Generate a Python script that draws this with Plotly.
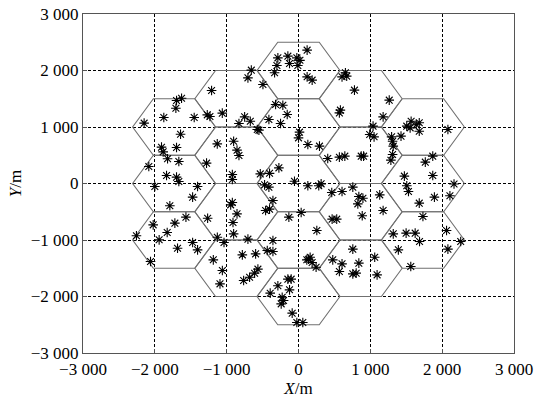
import numpy as np
import plotly.graph_objects as go

# Hexagonal cell centres (m)
hex_cx = [0, 0, 0, 0, 0, -866, -866, -866, -866, 866, 866, 866, 866, -1732, -1732, -1732, 1732, 1732, 1732]
hex_cy = [0, 1000, -1000, 2000, -2000, 500, -500, 1500, -1500, 500, -500, 1500, -1500, 0, 1000, -1000, 0, 1000, -1000]
hex_radius = 577.35

# User positions (m)
user_x = [120, -287, -148, -23, 20, -125, -9, -301, -333, 120, 190, -657, -704, -495, -1210,
          653, 606, 671, 779, 1263, -1698, -1628, -1707,
          -1875, -1452, -1233, -1061, -2149, -1642, -1131, -1907, -1698, -1884, -1823, -1666, -2084,
          -1280, -1837, -1698, -1666, -319, -218, -157, -412, -250, -750, -671, -829, -574, -551,
          14, 0, 130, 292, -903, -856, -829, 407, 569, -273, -403, -532, -921, -921, -56,
          583, 569, 1178, 1038, 1568, 1681, 1507, 1554, 1681, 1640, 2080, 991, 1052, 1296, 1427,
          1310, 1319, 1310, 1286, 1869, 1765, 1474, 1869, 645, 873, 906, 2165, -1270,
          -2000, -1405, -1474, -1791, -1567, -1265, -1721, -2023, -1828, -2256, -1940, -1130,
          -1037, -1474, -1684, -1405, -1186, -2060, -1060, -1093,
          -472, -412, 130, 282, 315, 463, 606, -356, -921, -944, -458, -403, -856, 37, -134,
          468, 532, -912, 255, -903, -704, -356, -782, -597, -435, -356, 116, 162, 190, 245, 140,
          477, 606, 569, -565, -611, -681, -764, -148, -102, -287, -125, -394, -227, -208, -241,
          -88, -23, 60,
          756, 840, 897, 826, 887, 1131, 1178, 1507, 1531, 1681, 1892, 1732, 2108, 2061, 1319,
          1498, 1624, 1685, 2258, 1390, 2080, 1563, 756, 1061, 840, 756, 803, 1094]
user_y = [2360, 2224, 2254, 2224, 2180, 2124, 2088, 2088, 1959, 1888, 1829, 2006, 1870, 1752, 1646,
          1959, 1888, 1900, 1652, 1475, 1469, 1510, 1333,
          1168, 1168, 1186, 1245, 1068, 873, 702, 643, 637, 560, 437, 389, 301,
          360, 142, 112, 35, 1398, 1386, 1221, 1133, 1062, 1180, 1103, 1062, 956, 944,
          909, 808, 690, 661, 749, 590, 496, 442, 466, 277, 180, 170, 159, 71, 41,
          1298, 1250, 1180, 1015, 1103, 1074, 1015, 985, 926, 1040, 956, 867, 826, 826, 838,
          749, 661, 513, 413, 484, 378, 130, 142, 484, 484, 484, -10, 1215,
          -53, -53, -242, -395, -596, -614, -702, -732, -867, -926, -997, -950,
          -1044, -1044, -1145, -1174, -1351, -1381, -1540, -1776,
          -24, -65, -41, -41, -6, -159, -142, -301, -336, -378, -478, -454, -537, -513, -596,
          -631, -631, -690, -832, -891, -985, -1009, -1263, -1245, -1186, -1204, -1351, -1304, -1398, -1481, -1340,
          -1351, -1422, -1558, -1516, -1587, -1658, -1717, -1693, -1693, -1811, -1882, -1941, -2012, -2071, -2130,
          -2295, -2460, -2460,
          -65, -230, -260, -360, -572, -201, -478, -41, -142, -348, -242, -584, -218, -832, -891,
          -879, -879, -1027, -1027, -1174, -1162, -1469, -1162, -1304, -1410, -1599, -1587, -1617]

tick_vals = [-3000, -2000, -1000, 0, 1000, 2000, 3000]
tick_text = ["\u22123 000", "\u22122 000", "\u22121 000", "0", "1 000", "2 000", "3 000"]

# Build hexagon outlines
ang = np.deg2rad(np.arange(0, 361, 60))
hx, hy = [], []
for cx, cy in zip(hex_cx, hex_cy):
    hx += list(cx + hex_radius * np.cos(ang)) + [None]
    hy += list(cy + hex_radius * np.sin(ang)) + [None]

fig = go.Figure()
fig.add_trace(go.Scatter(x=hx, y=hy, mode="lines",
                         line=dict(color="#707070", width=1.1),
                         hoverinfo="skip", showlegend=False))
fig.add_trace(go.Scatter(x=user_x, y=user_y, mode="markers",
                         marker=dict(symbol="asterisk-open", size=8, color="black",
                                     line=dict(color="black", width=1.1)),
                         showlegend=False))

font = dict(family="Liberation Serif, Times New Roman, serif", size=17, color="black")
axis_common = dict(range=[-3000, 3000], tickvals=tick_vals, ticktext=tick_text,
                   showgrid=True, gridcolor="black", griddash="3px,2px", gridwidth=1,
                   zeroline=False, showline=True, linecolor="#555555", linewidth=1.2,
                   mirror=True, ticks="inside", ticklen=4, tickcolor="#555555",
                   tickfont=font, automargin=False, ticklabeloverflow="allow")

fig.update_layout(
    width=534, height=404,
    margin=dict(l=83, r=20, t=14, b=51),
    paper_bgcolor="white", plot_bgcolor="white",
    font=font,
    xaxis=dict(**axis_common, title=dict(text="<i>X</i>/m", font=font, standoff=4)),
    yaxis=dict(**axis_common, title=dict(text="<i>Y</i>/m", font=font, standoff=4)),
)

fig.write_html("out.html", config={"displayModeBar": False},
               post_script="document.body.style.margin='0';document.body.style.overflow='hidden';")
